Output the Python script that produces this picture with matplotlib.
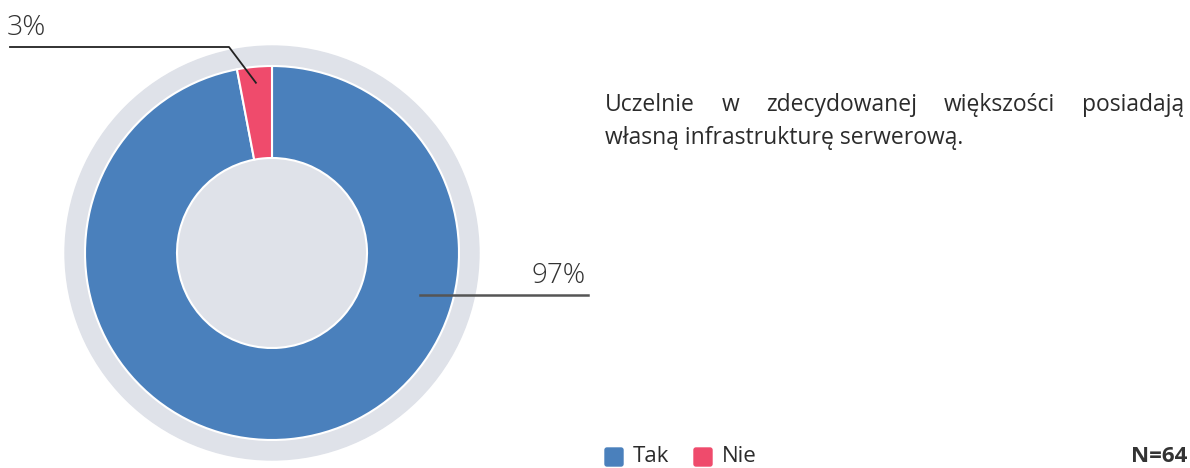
import numpy as np
import matplotlib
matplotlib.use('Agg')
import matplotlib.pyplot as plt
from matplotlib.patches import Circle, FancyBboxPatch

plt.rcParams['font.family'] = ['Open Sans', 'DejaVu Sans']

# Data
categories = ['Tak', 'Nie']
values = [97, 3]
colors = ['#4a80bc', '#ef4b6c']
ring_gray = '#dfe2e9'
text_col = '#2b2b2b'
n_total = 64
caption = ['Uczelnie w zdecydowanej większości posiadają',
           'własną infrastrukturę serwerową.']

W, H = 1190, 468
fig = plt.figure(figsize=(W / 100, H / 100), dpi=100)
ax = fig.add_axes([0, 0, 1, 1])

cx, cy = 272, H - 253
r_outer, r_pie, r_hole = 207, 187, 95

ax.add_patch(Circle((cx, cy), r_outer, color=ring_gray, zorder=0))
wedges, _ = ax.pie(values, colors=colors, startangle=90, counterclock=False,
                   radius=r_pie, center=(cx, cy),
                   wedgeprops=dict(width=r_pie - r_hole, edgecolor='white', linewidth=1.5))

ax.set_xlim(0, W)
ax.set_ylim(0, H)
ax.set_aspect('auto')
ax.axis('off')

# leader for the small slice, pointing at its middle
w = wedges[1]
mid = np.deg2rad((w.theta1 + w.theta2) / 2)
px, py = cx + 171 * np.cos(mid), cy + 171 * np.sin(mid)
ax.plot([10, 229, px], [H - 47, H - 47, py], color='#222222', lw=1.3, zorder=5)
ax.text(7, H - 35, f'{values[1]}%', fontsize=20.5, fontweight='light', color='#333333',
        ha='left', va='baseline')

ax.plot([420, 588], [H - 295, H - 295], color='#555555', lw=1.8, zorder=5)
ax.text(586, H - 283, f'{values[0]}%', fontsize=20, fontweight='light', color='#333333',
        ha='right', va='baseline')

# caption, first line justified between x0 and x1
x0, x1 = 605, 1184
fs = 16.5
fig.canvas.draw()
rend = fig.canvas.get_renderer()
words = caption[0].split()
txts = [ax.text(0, H - 111, wd, fontsize=fs, color=text_col, va='baseline') for wd in words]
widths = [t.get_window_extent(renderer=rend).width for t in txts]
gap = (x1 - x0 - sum(widths)) / (len(words) - 1)
x = x0
for t, wd in zip(txts, widths):
    t.set_x(x)
    x += wd + gap
ax.text(x0, H - 144, caption[1], fontsize=fs, color=text_col, va='baseline')

# legend
lx = [605, 694]
for xx, c, lab in zip(lx, colors, categories):
    ax.add_patch(FancyBboxPatch((xx + 2, H - 466 + 2), 14, 14,
                                boxstyle='round,pad=2', color=c, zorder=3, clip_on=False))
    ax.text(xx + 28, H - 462, lab, fontsize=16, color=text_col, va='baseline')

ax.text(1187, H - 462, f'N={n_total}', fontsize=16, fontweight='bold', color='#333333',
        ha='right', va='baseline')

fig.savefig('out.png', dpi=100)
plt.close()
